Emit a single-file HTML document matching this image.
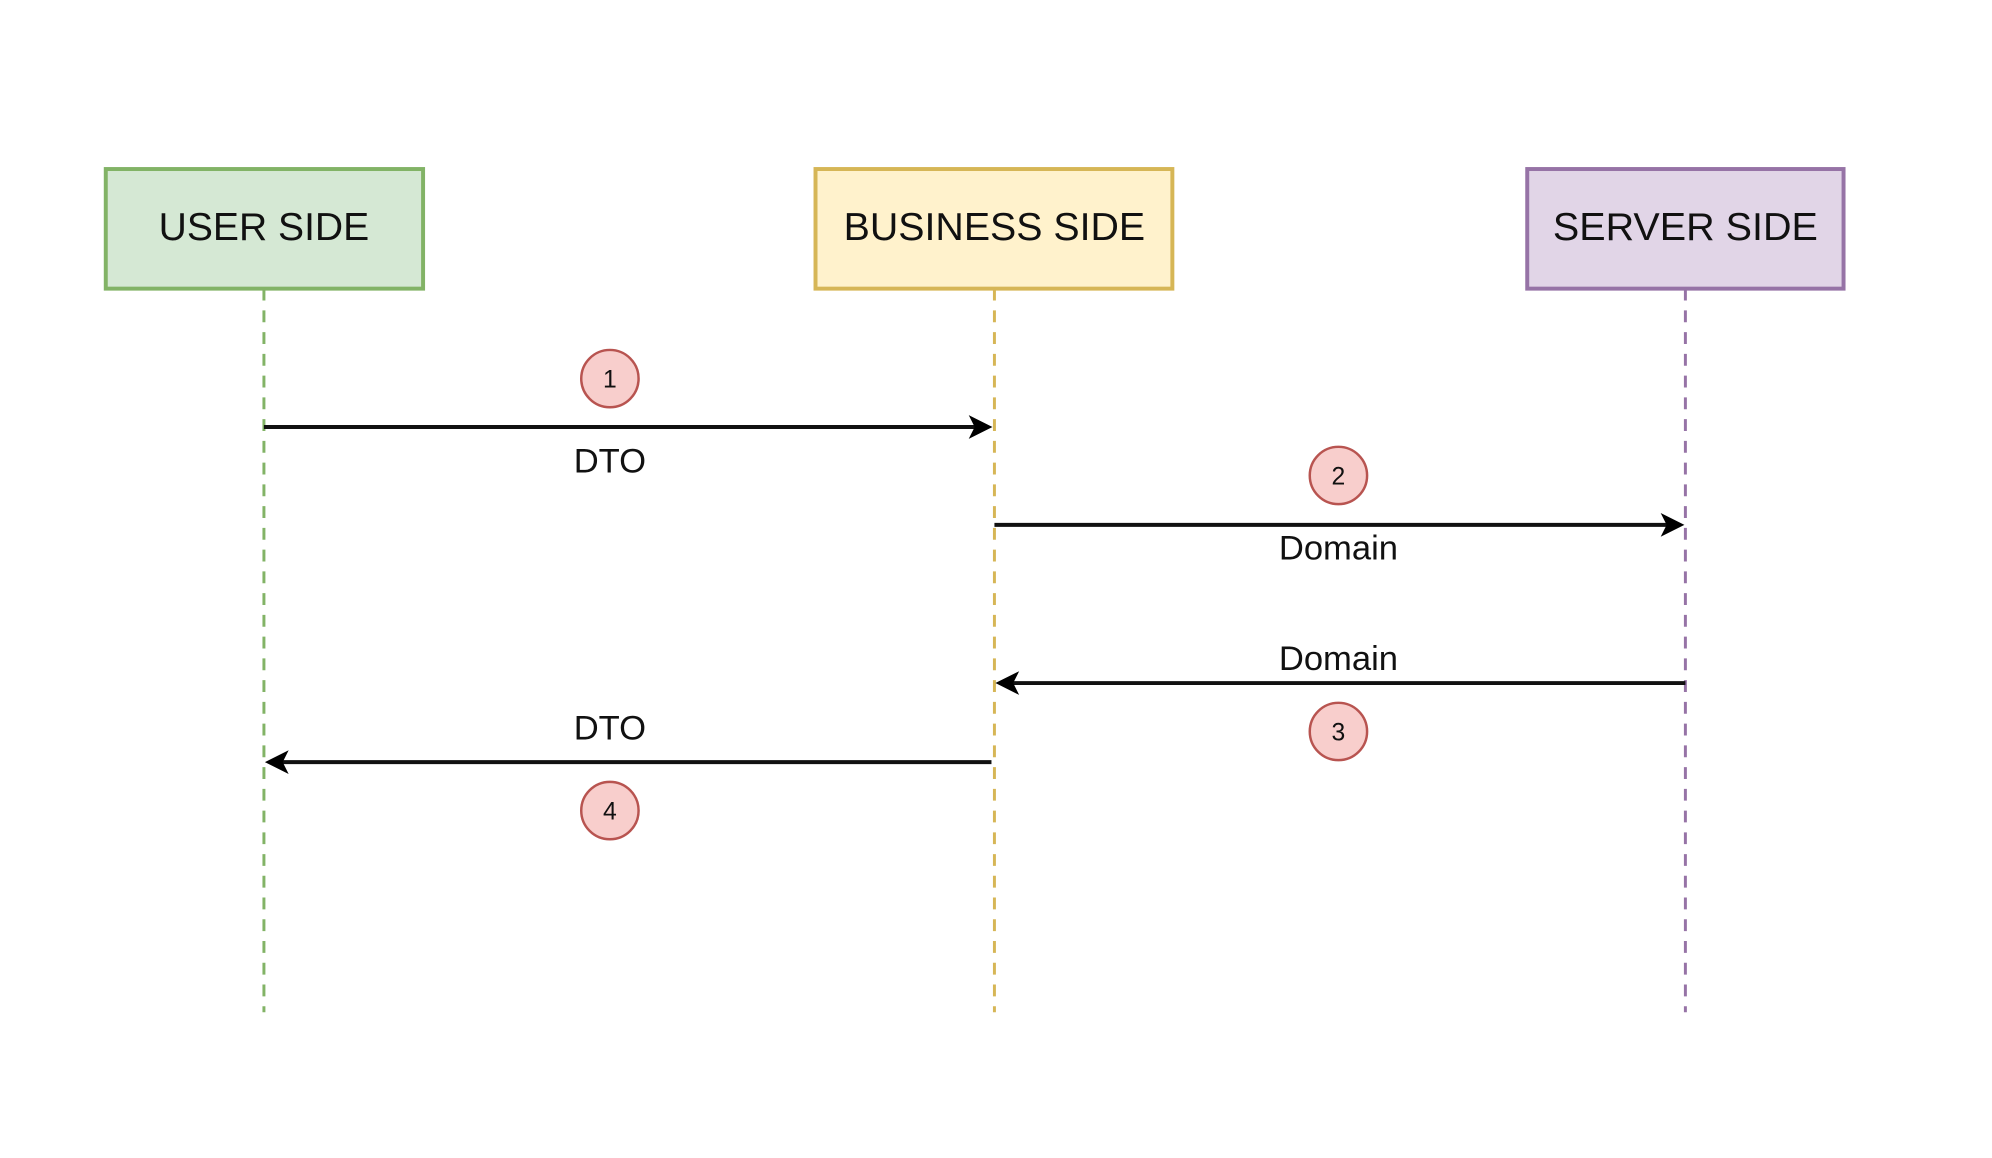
<!DOCTYPE html>
<html><head><meta charset="utf-8"><style>
html,body{margin:0;padding:0;background:#fff;width:1992px;height:1158px;overflow:hidden}
svg text{font-family:"Liberation Sans",sans-serif;fill:#111}
</style></head><body>
<svg width="1992" height="1158" viewBox="0 0 1992 1158">
<g transform="scale(0.9885)">
<!-- lifelines -->
<line x1="267" y1="292" x2="267" y2="1024" stroke="#82b366" stroke-width="3" stroke-dasharray="12,10"/>
<line x1="1006" y1="292" x2="1006" y2="1024" stroke="#d6b656" stroke-width="3" stroke-dasharray="12,10"/>
<line x1="1705" y1="292" x2="1705" y2="1024" stroke="#9673a6" stroke-width="3" stroke-dasharray="12,10"/>
<!-- boxes -->
<rect x="107" y="171" width="321" height="121" fill="#d5e8d4" stroke="#82b366" stroke-width="4"/>
<rect x="825" y="171" width="361" height="121" fill="#fff2cc" stroke="#d6b656" stroke-width="4"/>
<rect x="1545" y="171" width="320" height="121" fill="#e1d5e7" stroke="#9673a6" stroke-width="4"/>
<text x="267" y="243" font-size="39" text-anchor="middle" textLength="213" lengthAdjust="spacingAndGlyphs">USER SIDE</text>
<text x="1006" y="243" font-size="39" text-anchor="middle" textLength="305" lengthAdjust="spacingAndGlyphs">BUSINESS SIDE</text>
<text x="1705" y="243" font-size="39" text-anchor="middle" textLength="268" lengthAdjust="spacingAndGlyphs">SERVER SIDE</text>
<!-- arrows -->
<g stroke="#111" stroke-width="4" fill="none">
<line x1="267" y1="432" x2="990" y2="432"/>
<line x1="1006" y1="531" x2="1690" y2="531"/>
<line x1="1705" y1="691" x2="1021" y2="691"/>
<line x1="1003" y1="771" x2="282" y2="771"/>
</g>
<g fill="#000">
<path d="M1004,432 L980,420 L986,432 L980,444 Z"/>
<path d="M1704,531 L1680,519 L1686,531 L1680,543 Z"/>
<path d="M1007,691 L1031,679 L1025,691 L1031,703 Z"/>
<path d="M268,771 L292,759 L286,771 L292,783 Z"/>
</g>
<!-- labels -->
<text x="617" y="478" font-size="35" text-anchor="middle">DTO</text>
<text x="1354" y="566" font-size="35" text-anchor="middle">Domain</text>
<text x="1354" y="678" font-size="35" text-anchor="middle">Domain</text>
<text x="617" y="748" font-size="35" text-anchor="middle">DTO</text>
<!-- circles -->
<g fill="#f8cecc" stroke="#b85450" stroke-width="2.5">
<circle cx="617" cy="383" r="29"/>
<circle cx="1354" cy="481" r="29"/>
<circle cx="1354" cy="740" r="29"/>
<circle cx="617" cy="820" r="29"/>
</g>
<g font-size="25" text-anchor="middle">
<text x="617" y="392">1</text>
<text x="1354" y="490">2</text>
<text x="1354" y="749">3</text>
<text x="617" y="829">4</text>
</g>
</g>
</svg>
</body></html>
